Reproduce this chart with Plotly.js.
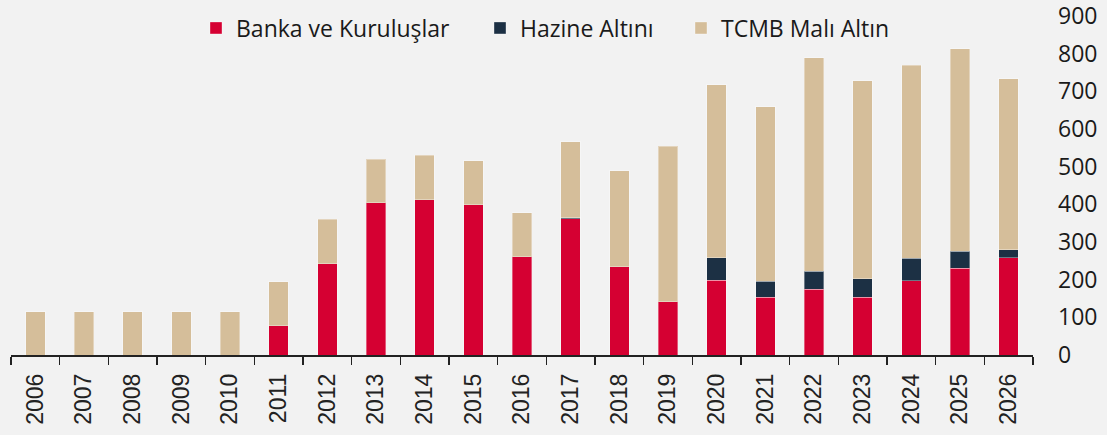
<!DOCTYPE html>
<html>
<head>
<meta charset="utf-8">
<script src="https://cdn.plot.ly/plotly-3.0.1.min.js"></script>
<style>
html,body{margin:0;padding:0;background:#f2f2f2;}
#chart{width:1107px;height:435px;}
</style>
</head>
<body>
<div id="chart"></div>
<script>
const years = ['2006','2007','2008','2009','2010','2011','2012','2013','2014','2015','2016','2017','2018','2019','2020','2021','2022','2023','2024','2025','2026'];
const banka = [0,0,0,0,0,78,242,404,412,399,261,362,235,141,199,153,175,153,197,230,258];
const hazine = [0,0,0,0,0,0,0,0,0,0,0,3,0,0,59,43,48,49,60,46,22];
const tcmb = [115,115,115,115,115,117,118,116,118,117,117,201,254,413,460,464,566,527,513,537,454];
const yTicks = [0,100,200,300,400,500,600,700,800,900];

const names = ['Banka ve Kuruluşlar','Hazine Altını','TCMB Malı Altın'];
const colors = ['#d50032','#1c3044','#d5be9a'];
const series = [banka, hazine, tcmb];
const legends = ['legend','legend2','legend3'];

const traces = series.map((vals, i) => ({
  type: 'bar',
  x: years,
  y: vals,
  name: names[i],
  legend: legends[i],
  marker: {color: colors[i], line: {color: 'rgba(255,255,255,0.35)', width: 1}},
  hoverinfo: 'x+y+name'
}));

const legFont = {family: 'Open Sans', size: 23, color: '#1a1a1a'};
function leg(px) {
  return {
    xref: 'container', yref: 'container',
    x: px / 1107, y: 1 - 28 / 435,
    xanchor: 'left', yanchor: 'middle',
    orientation: 'h', bgcolor: 'rgba(0,0,0,0)', borderwidth: 0,
    font: legFont, itemclick: false, itemdoubleclick: false
  };
}

const layout = {
  width: 1107, height: 435,
  paper_bgcolor: '#f2f2f2', plot_bgcolor: '#f2f2f2',
  margin: {l: 11, r: 74, t: 15, b: 80, pad: 0, autoexpand: false},
  barmode: 'stack',
  bargap: 0.6,
  showlegend: true,
  legend: leg(196),
  legend2: leg(480),
  legend3: leg(681),
  xaxis: {
    type: 'category',
    showgrid: false, zeroline: false,
    showline: true, linecolor: '#222', linewidth: 1.5,
    ticks: 'outside', tickson: 'boundaries', ticklen: 8, tickwidth: 1.5, tickcolor: '#222',
    tickangle: -90,
    ticklabelstandoff: 8,
    tickfont: {family: 'Liberation Sans', size: 23, color: '#222'}
  },
  yaxis: {
    side: 'right',
    range: [0, 903],
    tickvals: yTicks,
    ticktext: yTicks.map(String),
    showgrid: false, zeroline: false, showline: false,
    ticks: '',
    ticklabelstandoff: 24,
    ticklabeloverflow: 'allow',
    tickfont: {family: 'Open Sans', size: 23, color: '#1a1a1a'}
  }
};

Plotly.newPlot('chart', traces, layout, {displayModeBar: false, staticPlot: true});
</script>
</body>
</html>
